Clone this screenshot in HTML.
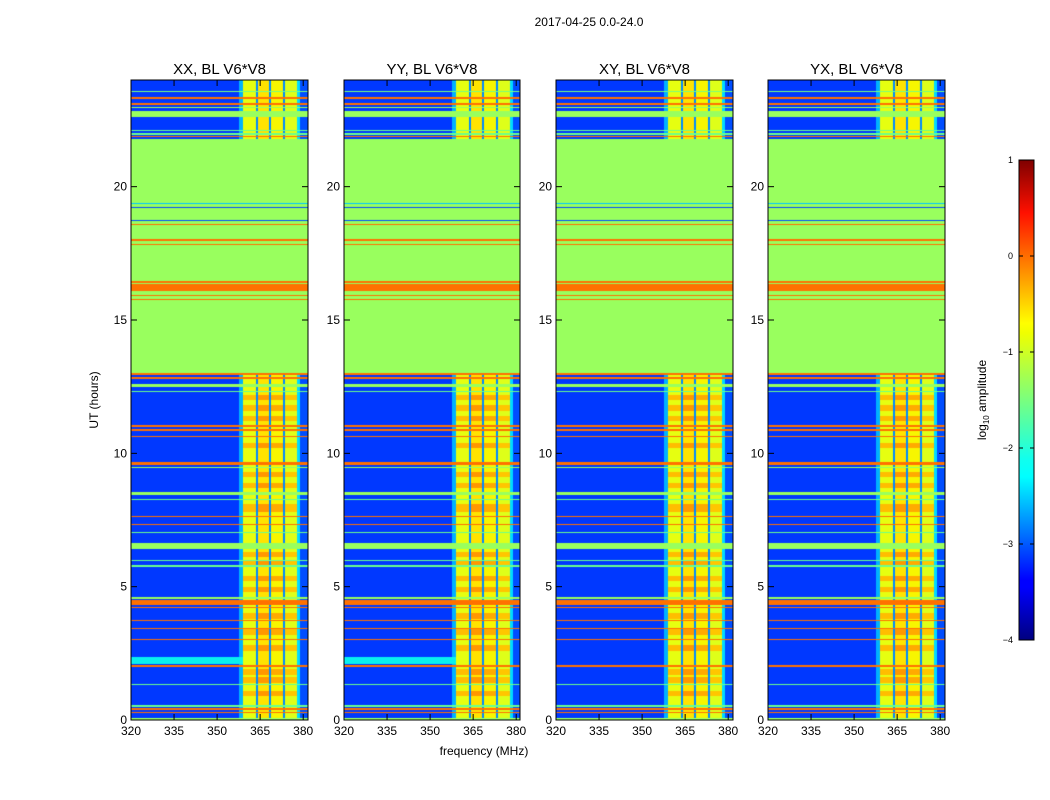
<!DOCTYPE html>
<html><head><meta charset="utf-8">
<style>
body{margin:0;background:#fff;width:1050px;height:800px;position:relative;overflow:hidden;font-family:"Liberation Sans",sans-serif}
canvas{position:absolute}
svg{position:absolute;left:0;top:0}
</style></head>
<body>
<canvas id="c0" width="177" height="640" style="left:131px;top:80px"></canvas>
<canvas id="c1" width="176" height="640" style="left:344px;top:80px"></canvas>
<canvas id="c2" width="177" height="640" style="left:556px;top:80px"></canvas>
<canvas id="c3" width="177" height="640" style="left:768px;top:80px"></canvas>
<svg id="ov" width="1050" height="800">
<defs><linearGradient id="jet" x1="0" y1="1" x2="0" y2="0">
<stop offset="0" stop-color="#00007f"/><stop offset="0.11" stop-color="#0000ff"/><stop offset="0.125" stop-color="#0000ff"/>
<stop offset="0.34" stop-color="#00ffff"/><stop offset="0.375" stop-color="#10ffef"/><stop offset="0.64" stop-color="#f0ff00"/>
<stop offset="0.66" stop-color="#ffff00"/><stop offset="0.89" stop-color="#ff1000"/><stop offset="1" stop-color="#7f0000"/></linearGradient></defs>
<text x="589" y="26" font-size="12" text-anchor="middle">2017-04-25 0.0-24.0</text>
<text x="98" y="400" font-size="12" text-anchor="middle" transform="rotate(-90 98 400)">UT (hours)</text>
<text x="484" y="755" font-size="12" text-anchor="middle">frequency (MHz)</text>
<rect x="1019" y="160" width="15" height="480" fill="url(#jet)" stroke="#000" stroke-width="1"/>
<text x="986" y="400" font-size="12" text-anchor="middle" transform="rotate(-90 986 400)">log<tspan font-size="8" dy="3">10</tspan><tspan dy="-3"> amplitude</tspan></text>
<g id="axes"></g>
</svg>
<script>
// ---- data ----
const panelTitles = ["XX, BL V6*V8","YY, BL V6*V8","XY, BL V6*V8","YX, BL V6*V8"];
const panelLefts = [131,344,556,768];
const panelWidths = [177,176,177,177];
const xTicks = [320,335,350,365,380];
const yTicks = [0,5,10,15,20];
const cbTicks = [1,0,-1,-2,-3,-4];
const cbTickLabels = ["1","0","\u22121","\u22122","\u22123","\u22124"];
// frequency profile (log10 amp) for active rows
const freqBins = [320,357.5,359,363.7,364.3,368.2,368.8,372.9,373.5,377.8,379,382];
const freqVals = [-3.1,-2.5,-0.85,-2.7,-0.65,-2.7,-0.75,-2.7,-0.9,-2.3,-3.0];
// full-width flagged/masked time features [t0, t1, value]
const timeFeatures = [
 [13.0,21.8,-1.32],[22.6,22.85,-1.32],[21.85,21.9,-0.05],[23.05,23.12,-0.05],[23.3,23.38,-0.05],
 [21.95,22.0,-1.6],[22.1,22.13,-1.6],[22.22,22.25,-1.6],[22.95,23.0,-1.3],[23.55,23.6,-1.5],
 [19.2,19.25,-3.0],[19.35,19.4,-2.4],[18.7,18.75,-3.0],[18.55,18.6,-0.05],[17.95,18.02,-0.05],[17.8,17.85,-0.05],
 [16.1,16.35,-0.05],[15.9,15.95,-0.05],[15.75,15.8,-0.05],[16.4,16.45,-0.05],
 [12.95,13.0,-0.05],[12.5,12.6,-1.32],[12.8,12.85,-0.05],[12.3,12.34,-1.6],
 [11.0,11.08,-0.05],[10.85,10.9,-0.05],[10.6,10.65,-0.05],[9.55,9.68,-0.05],[9.45,9.5,-1.32],
 [8.45,8.55,-1.32],[8.25,8.3,-1.6],[7.6,7.65,-0.05],[7.3,7.35,-0.05],[7.0,7.04,-1.6],
 [6.42,6.62,-1.32],[5.95,6.0,-1.6],[5.75,5.8,-1.6],[4.55,4.6,-1.32],[4.3,4.5,-0.05],[4.2,4.25,-0.05],
 [3.0,3.05,-0.05],[3.4,3.45,-0.05],[3.7,3.74,-0.05],[2.0,2.08,-0.05],[1.3,1.34,-1.6],[0.5,0.55,-1.6],
 [0.38,0.45,-0.05],[0.25,0.3,-0.05],[0.0,0.06,-1.32]
];
// rows in band region with stronger signal
const bandRows = [12.1,11.7,11.3,10.3,9.2,8.8,8.0,7.9,6.2,5.9,5.3,4.9,3.9,3.3,2.7,1.8,1.5,1.0];
// cyan band only in XX/YY panels
const cyanBand = [2.1,2.35,-2.2];
</script>
<script>
function jet(t){
 t=Math.max(0,Math.min(1,t));
 function seg(pts){for(let i=1;i<pts.length;i++){if(t<=pts[i][0]){const a=pts[i-1],b=pts[i];return a[1]+(b[1]-a[1])*(t-a[0])/(b[0]-a[0]||1);}}return pts[pts.length-1][1];}
 return [seg([[0,0],[0.35,0],[0.66,1],[0.89,1],[1,0.5]]),seg([[0,0],[0.125,0],[0.375,1],[0.64,1],[0.91,0],[1,0]]),seg([[0,0.5],[0.11,1],[0.34,1],[0.65,0],[1,0]])];
}
function freqBase(f){for(let i=0;i<freqVals.length;i++){if(f<freqBins[i+1])return freqVals[i];}return freqVals[freqVals.length-1];}
const pxPerMHz=2.87, pxPerHour=640/24;
for(let p=0;p<4;p++){
 const cv=document.getElementById('c'+p),ctx=cv.getContext('2d');
 const W=cv.width,H=640,img=ctx.createImageData(W,H);
 for(let py=0;py<H;py++){
  const t=24*(1-(py+0.5)/H);
  let feat=null;
  for(const tf of timeFeatures){if(t>=tf[0]&&t<tf[1]){feat=tf[2];}}
  let boost=0;for(const b of bandRows){if(Math.abs(t-b)<0.1)boost=0.4;}
  for(let px=0;px<W;px++){
   const f=320+(px+0.5)/pxPerMHz;
   let v;
   if(feat!==null)v=feat;
   else{
    v=freqBase(f);
    if(v>-2&&f>359)v+=boost;
    if(p<2&&t>=cyanBand[0]&&t<cyanBand[1]&&f<359)v=cyanBand[2];
   }
   const c=jet((v+4)/5),k=(py*W+px)*4;
   img.data[k]=c[0]*255;img.data[k+1]=c[1]*255;img.data[k+2]=c[2]*255;img.data[k+3]=255;
  }
 }
 ctx.putImageData(img,0,0);
}
const NS="http://www.w3.org/2000/svg",g=document.getElementById('axes');
function mk(tag,attrs,txt){const e=document.createElementNS(NS,tag);for(const k in attrs)e.setAttribute(k,attrs[k]);if(txt!==undefined)e.textContent=txt;g.appendChild(e);return e;}
for(let p=0;p<4;p++){
 const L=panelLefts[p],W=panelWidths[p];
 const fr=mk('rect',{x:L,y:80,width:W,height:640,fill:'none',stroke:'#000','stroke-width':1});
 
 
 const tt=mk('text',{x:L+W/2,y:74,'font-size':15,'text-anchor':'middle'},panelTitles[p]);
 
 
 for(const xv of xTicks){
  const x=L+(xv-320)*pxPerMHz;
  mk('line',{x1:x,y1:720,x2:x,y2:714,stroke:'#000'});
  mk('line',{x1:x,y1:80,x2:x,y2:86,stroke:'#000'});
  const xl=mk('text',{x:x,y:735,'font-size':12,'text-anchor':'middle'},String(xv));
  
  
 }
 for(const yv of yTicks){
  const y=720-yv*pxPerHour;
  mk('line',{x1:L,y1:y,x2:L+6,y2:y,stroke:'#000'});
  mk('line',{x1:L+W,y1:y,x2:L+W-6,y2:y,stroke:'#000'});
  const yl=mk('text',{x:L-4,y:y+4,'font-size':12,'text-anchor':'end'},String(yv));
  
  
 }
}
cbTicks.forEach((v,i)=>{
 const y=640-(v+4)/5*480;
 mk('line',{x1:1019,y1:y,x2:1023,y2:y,stroke:'#000'});
 mk('line',{x1:1034,y1:y,x2:1030,y2:y,stroke:'#000'});
 const cl=mk('text',{x:1013,y:y+3,'font-size':9,'text-anchor':'end'},cbTickLabels[i]);
 
 
});
</script>
</body></html>
